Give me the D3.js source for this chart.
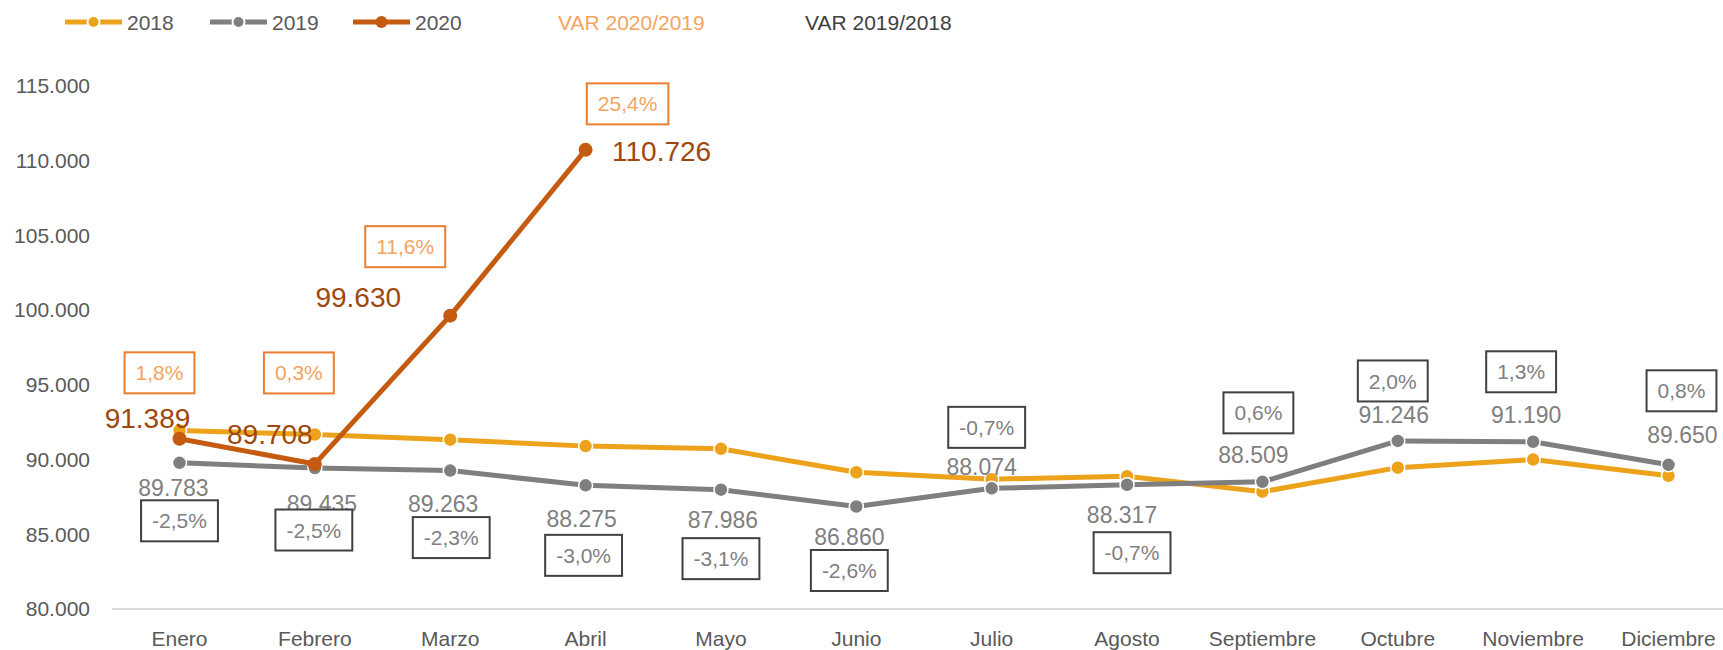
<!DOCTYPE html>
<html lang="es">
<head>
  <meta charset="UTF-8">
  <title>Evolución mensual 2018-2020</title>
  <script src="https://d3js.org/d3.v7.min.js"></script>
  <style>
    body { margin: 0; background: #fff; }
    text { font-family: "Liberation Sans", Arial, sans-serif; }
    .tick text { fill: #595959; font-size: 21px; }
    .month { fill: #595959; font-size: 21px; }
    .legend text { font-size: 21px; fill: #595959; }
  </style>
</head>
<body>
<svg id="chart" width="1723" height="650"></svg>
<script>
  // data
  const months = ["Enero", "Febrero", "Marzo", "Abril", "Mayo", "Junio", "Julio",
                  "Agosto", "Septiembre", "Octubre", "Noviembre", "Diciembre"];
  const serie2018 = [91950, 91680, 91330, 90900, 90720, 89150, 88690, 88880, 87850, 89460, 90000, 88920];
  const serie2019 = [89783, 89435, 89263, 88275, 87986, 86860, 88074, 88317, 88509, 91246, 91190, 89650];
  const serie2020 = [91389, 89708, 99630, 110726];
  const var2020 = [0.018, 0.003, 0.116, 0.254];
  const var2019 = [-0.025, -0.025, -0.023, -0.030, -0.031, -0.026, -0.007, -0.007, 0.006, 0.020, 0.013, 0.008];
  const yTicks = [80000, 85000, 90000, 95000, 100000, 105000, 110000, 115000];

  // where each label sits relative to its point (hand placed like in the original)
  const lab20Off = [[-32, -21], [-45, -30], [-92, -19], [76, 1]];
  const box20Off = [[-20, -66], [-16, -91], [-45, -69], [42, -46]];
  const lab19Off = [[-6, 25], [7, 36], [-7, 33], [-4, 33], [2, 30], [-7, 30],
                    [-10, -22], [-5, 30], [-9, -27], [-4, -26], [-7, -27], [14, -30]];
  const box19Off = [[0, 58], [-1, 62], [1, 67], [-2, 70], [0, 69], [-7, 64],
                    [-5, -61], [5, 68], [-4, -69], [-5, -60], [-12, -70], [13, -74]];

  const col18 = "#EDA21C", col19 = "#7F7F7F", col20 = "#C55A11";

  const es = d3.formatLocale({decimal: ",", thousands: ".", grouping: [3], currency: ["", "€"], minus: "-"});
  const fmtNum = es.format(",.0f");
  const fmtPct = es.format(".1%");

  const svg = d3.select("#chart");

  const x = d3.scalePoint().domain(months).range([179.5, 1668.5]);
  const y = d3.scaleLinear().domain([80000, 115000]).range([609, 86]);

  // y axis, labels only
  const yAxis = svg.append("g")
    .attr("transform", "translate(90,0)")
    .call(d3.axisLeft(y).tickValues(yTicks).tickSize(0).tickPadding(0).tickFormat(fmtNum));
  yAxis.select(".domain").remove();

  // base line
  svg.append("line")
    .attr("x1", 112).attr("x2", 1723)
    .attr("y1", y(80000)).attr("y2", y(80000))
    .attr("stroke", "#D9D9D9").attr("stroke-width", 2);

  svg.selectAll("text.month").data(months).join("text")
    .attr("class", "month")
    .attr("x", d => x(d))
    .attr("y", 646)
    .attr("text-anchor", "middle")
    .text(d => d);

  const line = d3.line().x((d, i) => x(months[i])).y(d => y(d));

  function drawSeries(values, color, outline) {
    svg.append("path").datum(values)
      .attr("fill", "none")
      .attr("stroke", color)
      .attr("stroke-width", 5)
      .attr("stroke-linejoin", "round")
      .attr("d", line);
    svg.append("g").selectAll("circle").data(values).join("circle")
      .attr("cx", (d, i) => x(months[i]))
      .attr("cy", d => y(d))
      .attr("r", 7)
      .attr("fill", color)
      .attr("stroke", outline ? "#fff" : "none")
      .attr("stroke-width", 1.5);
  }
  drawSeries(serie2018, col18, true);
  drawSeries(serie2019, col19, true);
  drawSeries(serie2020, col20, false);

  // value labels
  svg.append("g").selectAll("text").data(serie2019).join("text")
    .attr("x", (d, i) => x(months[i]) + lab19Off[i][0])
    .attr("y", (d, i) => y(d) + lab19Off[i][1])
    .attr("dy", "0.36em")
    .attr("text-anchor", "middle")
    .attr("font-size", 23)
    .attr("fill", "#7F7F7F")
    .text(d => fmtNum(d));

  svg.append("g").selectAll("text").data(serie2020).join("text")
    .attr("x", (d, i) => x(months[i]) + lab20Off[i][0])
    .attr("y", (d, i) => y(d) + lab20Off[i][1])
    .attr("dy", "0.36em")
    .attr("text-anchor", "middle")
    .attr("font-size", 28)
    .attr("fill", "#9E480E")
    .text(d => fmtNum(d));

  // boxed percentage labels
  function drawBoxes(pcts, base, offs, stroke, fill) {
    const g = svg.append("g");
    pcts.forEach((p, i) => {
      const cx = x(months[i]) + offs[i][0];
      const cy = y(base[i]) + offs[i][1];
      const rect = g.append("rect");
      const t = g.append("text")
        .attr("x", cx).attr("y", cy)
        .attr("dy", "0.36em")
        .attr("text-anchor", "middle")
        .attr("font-size", 21)
        .attr("fill", fill)
        .text(fmtPct(p));
      const w = t.node().getBBox().width + 22;
      rect.attr("x", cx - w / 2).attr("y", cy - 20.5)
        .attr("width", w).attr("height", 41)
        .attr("fill", "#fff")
        .attr("stroke", stroke)
        .attr("stroke-width", 2);
    });
  }
  drawBoxes(var2020, serie2020, box20Off, "#ED7D31", "#F4A460");
  drawBoxes(var2019, serie2019, box19Off, "#404040", "#7F7F7F");

  // legend
  const legend = svg.append("g").attr("class", "legend");
  const legItems = [
    {label: "2018", color: col18, x0: 65, outline: true},
    {label: "2019", color: col19, x0: 210, outline: true},
    {label: "2020", color: col20, x0: 353, outline: false}
  ];
  legItems.forEach(d => {
    legend.append("line")
      .attr("x1", d.x0).attr("x2", d.x0 + 57)
      .attr("y1", 22).attr("y2", 22)
      .attr("stroke", d.color).attr("stroke-width", 5);
    legend.append("circle")
      .attr("cx", d.x0 + 28.5).attr("cy", 22).attr("r", 6)
      .attr("fill", d.color)
      .attr("stroke", d.outline ? "#fff" : "none").attr("stroke-width", 2);
    legend.append("text")
      .attr("x", d.x0 + 62).attr("y", 22).attr("dy", "0.36em")
      .text(d.label);
  });
  legend.append("text").attr("x", 558).attr("y", 22).attr("dy", "0.36em")
    .style("fill", "#F4A460").text("VAR 2020/2019");
  legend.append("text").attr("x", 805).attr("y", 22).attr("dy", "0.36em")
    .style("fill", "#404040").text("VAR 2019/2018");
</script>
</body>
</html>
